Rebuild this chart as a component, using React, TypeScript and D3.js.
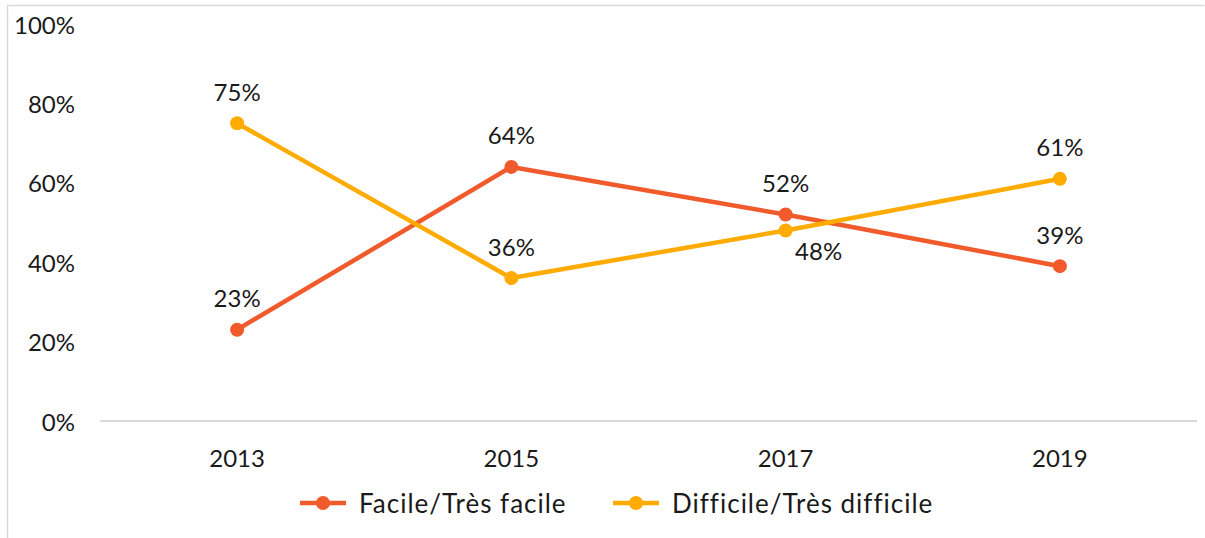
import React from "react";
import * as d3 from "d3";

const years = ["2013", "2015", "2017", "2019"];
const facile = [23, 64, 52, 39];
const difficile = [75, 36, 48, 61];
const yTicks = [0, 20, 40, 60, 80, 100];
// where each value label sits relative to its point
const facilePos = ["above", "above", "above", "above"];
const difficilePos = ["above", "above", "belowRight", "above"];

const W = 1205;
const H = 538;
const FONT = "Lato, 'Noto Sans', sans-serif";
const INK = "#1a1a1a";

const series = [
  { name: "Facile/Très facile", values: facile, pos: facilePos, color: "#F15A2B" },
  { name: "Difficile/Très difficile", values: difficile, pos: difficilePos, color: "#FFAB00" },
];

export default function App() {
  const x = d3.scalePoint().domain(years).range([100, 1197]).padding(0.5);
  const y = d3.scaleLinear().domain([0, 100]).range([421, 24]);

  const line = d3
    .line<number>()
    .x((d, i) => x(years[i]) as number)
    .y((d) => y(d));

  return (
    <svg
      width={W}
      height={H}
      style={{ position: "absolute", left: 0, top: 0, display: "block", background: "#fff" }}
      fontFamily={FONT}
    >
      {/* chart frame */}
      <path d={`M7.5,${H} V5.5 H1204.5`} fill="none" stroke="#d9d9d9" strokeWidth={1.5} />

      {/* y tick labels */}
      {yTicks.map((t) => (
        <text key={t} x={75} y={y(t)} textAnchor="end" dominantBaseline="central" fontSize={24} fill={INK}>
          {t}%
        </text>
      ))}

      {/* baseline */}
      <line x1={100} x2={1197} y1={y(0)} y2={y(0)} stroke="#d9d9d9" strokeWidth={2} />

      {/* x labels */}
      {years.map((yr) => (
        <text key={yr} x={x(yr)} y={457} textAnchor="middle" dominantBaseline="central" fontSize={24} fill={INK}>
          {yr}
        </text>
      ))}

      {/* lines and markers */}
      {series.map((s) => (
        <g key={s.name}>
          <path d={line(s.values) || ""} fill="none" stroke={s.color} strokeWidth={4.5} strokeLinejoin="round" />
          {s.values.map((v, i) => (
            <circle key={i} cx={x(years[i])} cy={y(v)} r={7} fill={s.color} />
          ))}
        </g>
      ))}

      {/* value labels */}
      {series.map((s) =>
        s.values.map((v, i) => {
          const px = x(years[i]) as number;
          const py = y(v);
          const below = s.pos[i] === "belowRight";
          return (
            <text
              key={s.name + i}
              x={below ? px + 33 : px}
              y={below ? py + 20 : py - 32}
              textAnchor="middle"
              dominantBaseline="central"
              fontSize={24}
              fill={INK}
            >
              {v}%
            </text>
          );
        })
      )}

      {/* legend */}
      {series.map((s, i) => {
        const lx = [300, 613][i];
        return (
          <g key={s.name} transform={`translate(${lx},503)`}>
            <line x1={0} x2={46} y1={0} y2={0} stroke={s.color} strokeWidth={4.5} />
            <circle cx={23} cy={0} r={7} fill={s.color} />
            <text x={59} y={0} dominantBaseline="central" fontSize={26} letterSpacing={1} fill={INK}>
              {s.name}
            </text>
          </g>
        );
      })}
    </svg>
  );
}
